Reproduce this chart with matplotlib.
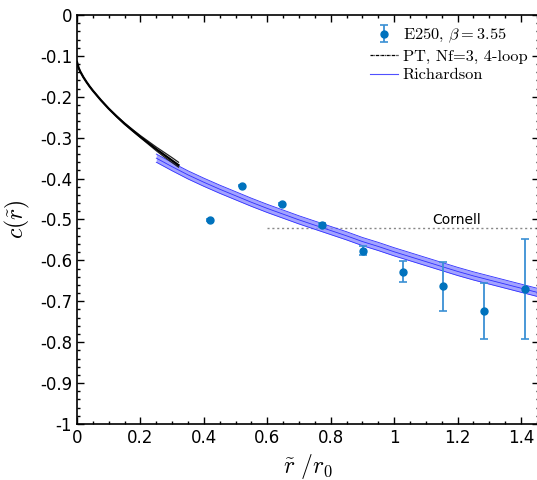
import matplotlib
matplotlib.use("Agg")
import matplotlib.pyplot as plt
from matplotlib.ticker import MultipleLocator, FuncFormatter
from matplotlib.font_manager import FontProperties

plt.rcParams['mathtext.fontset'] = 'cm'
plt.rcParams['axes.unicode_minus'] = False
plt.rcParams['font.family'] = ['DejaVu Sans']

# Lattice data (E250, beta = 3.55)
lat_x = [0.419, 0.520, 0.646, 0.773, 0.902, 1.028, 1.155, 1.283, 1.413]
lat_y = [-0.501, -0.417, -0.462, -0.514, -0.577, -0.628, -0.663, -0.724, -0.670]
lat_err = [0.002, 0.002, 0.002, 0.005, 0.011, 0.026, 0.060, 0.068, 0.123]

# Perturbation theory curves
pt_x = [0.0, 0.005, 0.01, 0.02, 0.03, 0.04, 0.05, 0.075, 0.10, 0.125, 0.15, 0.175, 0.20,
        0.225, 0.25, 0.275, 0.30, 0.32]
pt_y = [-0.115, -0.129, -0.138, -0.152, -0.164, -0.175, -0.185, -0.208, -0.229, -0.248,
        -0.266, -0.282, -0.298, -0.313, -0.328, -0.342, -0.356, -0.367]
pt_hi = [-0.115, -0.129, -0.138, -0.152, -0.164, -0.175, -0.185, -0.208, -0.229, -0.247,
         -0.264, -0.280, -0.295, -0.309, -0.323, -0.336, -0.349, -0.360]
pt_lo = [-0.115, -0.129, -0.138, -0.152, -0.164, -0.175, -0.185, -0.208, -0.229, -0.249,
         -0.267, -0.284, -0.300, -0.316, -0.332, -0.347, -0.361, -0.372]

# Richardson band
ri_x = [0.25, 0.30, 0.35, 0.40, 0.45, 0.50, 0.55, 0.60, 0.65, 0.70, 0.75, 0.80, 0.85, 0.90,
        0.95, 1.00, 1.05, 1.10, 1.15, 1.20, 1.25, 1.30, 1.35, 1.40, 1.45]
ri_y = [-0.350, -0.371, -0.391, -0.409, -0.426, -0.442, -0.458, -0.473, -0.487, -0.501, -0.514, -0.527,
        -0.540, -0.554, -0.566, -0.579, -0.591, -0.603, -0.615, -0.627, -0.638, -0.648, -0.658, -0.668, -0.678]
ri_hw = 0.010

# Cornell reference level
cornell_x = [0.60, 1.46]
cornell_y = [-0.521, -0.521]

fig = plt.figure(figsize=(5.37, 4.80), dpi=100)
ax = fig.add_axes([0.1434, 0.1167, 0.86, 0.8521])

ri_up = [v + ri_hw for v in ri_y]
ri_dn = [v - ri_hw for v in ri_y]
ax.fill_between(ri_x, ri_dn, ri_up, color=(0.55, 0.55, 1.0), alpha=0.8, lw=0, zorder=2)
ax.plot(ri_x, ri_up, color='#3030ff', lw=0.6, zorder=3)
ax.plot(ri_x, ri_dn, color='#3030ff', lw=0.6, zorder=3)
ax.plot(ri_x, ri_y, color='#3030ff', lw=0.6, zorder=3)
ax.plot([], [], color='#5050ff', lw=0.8, label='Richardson')

ax.plot(pt_x, pt_hi, color='#222222', lw=0.9, ls='-', zorder=4)
ax.plot(pt_x, pt_lo, color='#222222', lw=0.9, ls='-', zorder=4)
ax.plot(pt_x, pt_y, color='black', lw=1.6, ls='-', zorder=4)
ax.plot([], [], color='black', lw=0.9, ls=(0, (2.5, 0.6, 0.6, 0.6)), label='PT, Nf=3, 4-loop')

ax.plot(cornell_x, cornell_y, color='#888888', lw=1.0, ls=(0, (1.5, 2)), zorder=1)
ax.text(1.198, -0.502, 'Cornell', fontsize=10, ha='center', va='center')

eb = ax.errorbar(lat_x, lat_y, yerr=lat_err, fmt='o', color='#0072BD', ecolor='#3a90d4',
                 elinewidth=1.3, capsize=3, capthick=1.2, markersize=5, zorder=5,
                 label=r'E250, $\beta = 3.55$')

ax.set_xlim(0, 1.456)
ax.set_ylim(-1, 0)
ax.xaxis.set_major_locator(MultipleLocator(0.2))
ax.xaxis.set_minor_locator(MultipleLocator(0.05))
ax.yaxis.set_major_locator(MultipleLocator(0.1))
ax.yaxis.set_minor_locator(MultipleLocator(0.02))
fmt = FuncFormatter(lambda v, p: '%g' % round(v, 6) if abs(v) > 1e-9 else '0')
ax.xaxis.set_major_formatter(fmt)
ax.yaxis.set_major_formatter(fmt)
ax.tick_params(which='both', direction='in', top=True, right=True, labelsize=12)
ax.tick_params(which='major', length=5, width=1)
ax.tick_params(which='minor', length=2.5, width=1)
for s in ax.spines.values():
    s.set_linewidth(1.2)

ax.set_xlabel(r'$\tilde{r}\ /r_0$', fontsize=17, labelpad=4)
ax.set_ylabel(r'$c(\tilde{r})$', fontsize=17, labelpad=6)

h, l = ax.get_legend_handles_labels()
order = [l.index(r'E250, $\beta = 3.55$'), l.index('PT, Nf=3, 4-loop'), l.index('Richardson')]
leg = ax.legend([h[i] for i in order], [l[i] for i in order], loc='upper right',
                bbox_to_anchor=(0.994, 0.958), bbox_transform=fig.transFigure,
                frameon=False, prop=FontProperties(family='cmr10', size=11.8),
                handlelength=1.7, handletextpad=0.3, labelspacing=0.25, borderaxespad=0)

fig.savefig('out.png', dpi=100)
